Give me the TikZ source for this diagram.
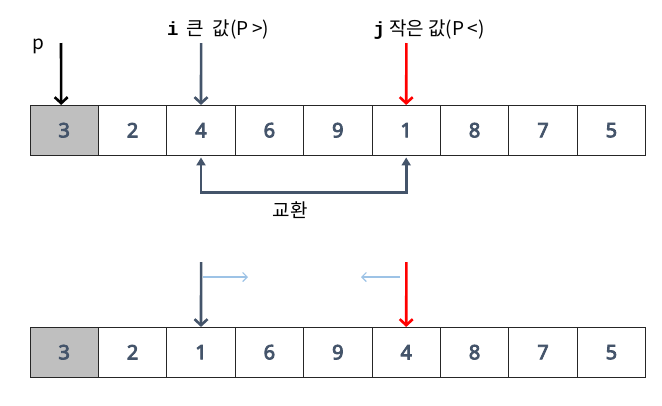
\documentclass[tikz,border=0pt]{standalone}
\usepackage{fontspec}
\setmainfont{Noto Sans}
\newfontfamily\digitfont[FakeBold=4]{Noto Sans}
\newfontfamily\kr{Noto Sans CJK KR}
\newfontfamily\mono{Liberation Mono}
\usepackage{tikz}
\usetikzlibrary{arrows.meta,positioning}

\definecolor{slate}{HTML}{44546A}
\definecolor{pivotgray}{HTML}{BFBFBF}
\definecolor{lightblue}{HTML}{9DC3E6}

\begin{document}
\begin{tikzpicture}[
    x=1pt, y=-1pt,
    node distance=0pt,
    cell/.style={rectangle, draw=black!85, line width=0.9pt, minimum width=68.4pt, minimum height=50.5pt, inner sep=0pt, outer sep=0pt, text=slate, font=\digitfont\fontsize{20}{23}\selectfont},
    pivot/.style={cell, fill=pivotgray},
    lbl/.style={font=\kr\fontsize{19}{22}\selectfont, inner sep=0pt},
    ptr/.style={-{Straight Barb[length=6pt,width=13pt,line width=2.6pt]}, line width=2.6pt},
    swap/.style={{Triangle[length=8pt,width=9pt]}-{Triangle[length=8pt,width=9pt]}, line width=2.8pt, draw=slate},
    move/.style={-{Straight Barb[length=4.5pt,width=9pt]}, line width=1.2pt, draw=lightblue}
]
    \useasboundingbox (0,0) rectangle (662,405);

    % first row
    \node[pivot] (a1) at (64.2,130.2) {3};
    \node[cell, right=of a1] (a2) {2};
    \node[cell, right=of a2] (a3) {4};
    \node[cell, right=of a3] (a4) {6};
    \node[cell, right=of a4] (a5) {9};
    \node[cell, right=of a5] (a6) {1};
    \node[cell, right=of a6] (a7) {8};
    \node[cell, right=of a7] (a8) {7};
    \node[cell, right=of a8] (a9) {5};

    % second row
    \node[pivot, below=171.5pt of a1] (b1) {3};
    \node[cell, right=of b1] (b2) {2};
    \node[cell, right=of b2] (b3) {1};
    \node[cell, right=of b3] (b4) {6};
    \node[cell, right=of b4] (b5) {9};
    \node[cell, right=of b5] (b6) {4};
    \node[cell, right=of b6] (b7) {8};
    \node[cell, right=of b7] (b8) {7};
    \node[cell, right=of b8] (b9) {5};

    % labels
    \node[lbl] (plbl) at (38,46) {p};
    \node[lbl] (ilbl) at (218,30) {{\mono\bfseries i}\ \ 큰\ \ 값(P\,>)};
    \node[lbl] (jlbl) at (429,30) {{\mono\bfseries j}\ 작은\ 값(P\,<)};
    \node[lbl] (swaplbl) at (290,210) {교환};

    \coordinate (pstart) at (61,43);
    \coordinate (istart) at (201.1,43);
    \coordinate (jstart) at (406.4,43);
    \coordinate (i2start) at (201.1,262);
    \coordinate (j2start) at (406.4,262);
    \coordinate (ifrom) at (203,277);
    \coordinate (ito) at (248,277);
    \coordinate (jfrom) at (400,277);
    \coordinate (jto) at (361,277);

    \draw[ptr, black] (pstart) -- ([xshift=-3pt]a1.north);
    \draw[ptr, slate] (istart) -- (a3.north);
    \draw[ptr, red] (jstart) -- (a6.north);
    \draw[swap, shorten <=2pt, shorten >=2pt] (a3.south) -- ++(0,37) -| (a6.south);

    \draw[ptr, slate] (i2start) -- (b3.north);
    \draw[ptr, red] (j2start) -- (b6.north);
    \draw[move] (ifrom) -- (ito);
    \draw[move] (jfrom) -- (jto);
\end{tikzpicture}
\end{document}
